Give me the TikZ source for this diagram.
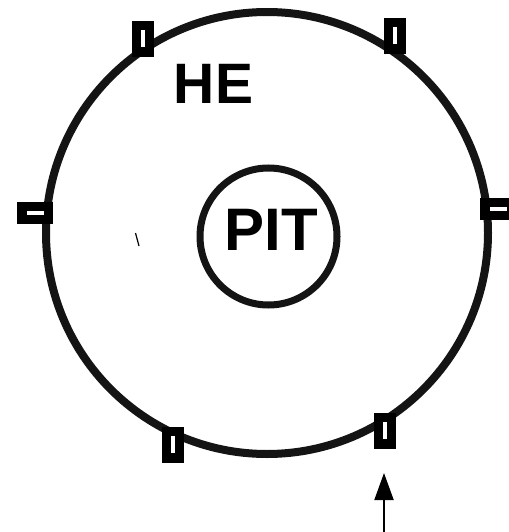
\documentclass[tikz,border=0pt]{standalone}
\usepackage{fontspec}
\setmainfont{Liberation Sans}
\usetikzlibrary{arrows.meta,calc}
\tikzset{
  ring/.style={draw=black!92, line width=8pt},
  txt/.style={inner sep=0pt, anchor=base},
  portfill/.style={fill=black},
  slotfill/.style={fill=white}
}
\newcommand\myvport[1]{%
  \path[portfill] ($(#1)+(-11,-18)$) rectangle ($(#1)+(11,18)$);
  \path[slotfill] ($(#1)+(-2,-8.5)$) rectangle ($(#1)+(2,8.5)$);}
\newcommand\myhport[1]{%
  \path[portfill] ($(#1)+(-18,-11)$) rectangle ($(#1)+(18,11)$);
  \path[slotfill] ($(#1)+(-8.5,-2)$) rectangle ($(#1)+(8.5,2)$);}
\begin{document}
\begin{tikzpicture}[x=1pt,y=-1pt]
\useasboundingbox (0,0) rectangle (508,532);
% outer vessel
\node[ring, circle, minimum size=442pt, inner sep=0pt] (vessel) at (267,233) {};
% pit
\node[ring, line width=7pt, circle, minimum size=137pt, inner sep=0pt] (pitc) at (268.5,236.5) {};
\node[txt, font=\fontsize{60}{60}\selectfont\bfseries] (pit) at (271,250) {PIT};
\node[txt, font=\fontsize{57}{57}\selectfont\bfseries] (he) at (213.5,103) {HE};
% ports
\coordinate (p1) at (142.5,39);
\coordinate (p2) at (395,36);
\coordinate (p3) at (35,212.5);
\coordinate (p4) at (498,208.5);
\coordinate (p5) at (173,444.5);
\coordinate (p6) at (385,430.5);
\myvport{p1}
\myvport{p2}
\myhport{p3}
\myhport{p4}
\myvport{p5}
\myvport{p6}
% arrow
\coordinate (tail) at (384,532);
\coordinate (tip) at (384,473);
\draw[line width=2pt, -{Triangle[width=19pt,length=27pt]}] (tail) -- (tip);
% stray mark
\coordinate (m1) at (135.5,233);
\coordinate (m2) at (139,246);
\draw[line width=1.2pt] (m1) -- (m2);
\end{tikzpicture}
\end{document}
